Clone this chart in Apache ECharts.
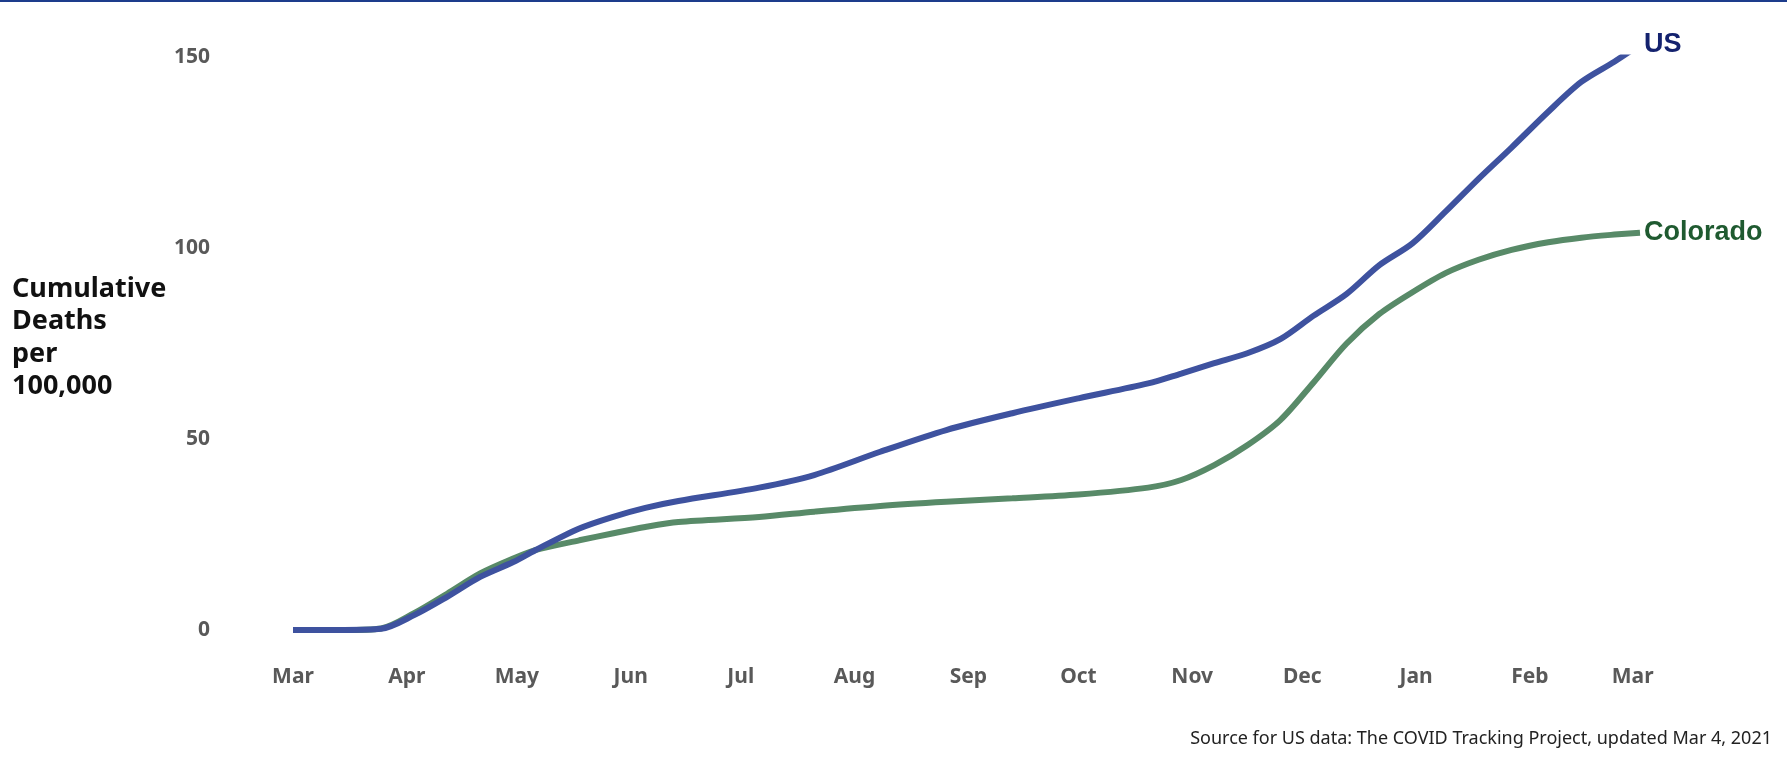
<!DOCTYPE html>
<html>
<head>
<meta charset="utf-8">
<script src="https://cdn.jsdelivr.net/npm/echarts@6/dist/echarts.min.js"></script>
<style>
html,body{margin:0;padding:0;background:#fff;}
#chart{width:1787px;height:763px;}
</style>
</head>
<body>
<div id="chart"></div>
<script>
// ---- data ----
var dates = ['2020-03-01','2020-03-15','2020-03-25','2020-04-03','2020-04-12','2020-04-21','2020-04-30',
  '2020-05-06','2020-05-18','2020-05-27','2020-06-05','2020-06-14','2020-07-06','2020-07-21','2020-08-08',
  '2020-08-26','2020-09-13','2020-10-01','2020-10-20','2020-10-29','2020-11-07','2020-11-16','2020-11-25',
  '2020-12-04','2020-12-13','2020-12-22','2020-12-31','2021-01-09','2021-01-18','2021-01-27','2021-02-06',
  '2021-02-15','2021-02-24','2021-03-03'];
var usValues = [0,0,0.3,3.9,8.7,13.9,17.8,20.9,26.6,29.6,32.0,33.8,37.3,40.6,46.7,52.4,56.8,60.7,64.6,67.2,
  69.9,72.5,76.2,82.3,88.0,95.6,101.3,109.6,118.2,126.4,135.8,143.6,148.9,153.4];
var coloradoValues = [0,0,0.4,4.4,9.5,14.8,18.7,20.9,23.5,25.3,27.0,28.3,29.6,31.0,32.5,33.6,34.5,35.5,37.3,
  39.3,43.2,48.4,55.0,64.8,75.0,82.8,88.5,93.5,97.0,99.6,101.6,102.8,103.6,104.1];
var monthTicks = ['2020-03-01','2020-04-01','2020-05-01','2020-06-01','2020-07-01','2020-08-01','2020-09-01',
  '2020-10-01','2020-11-01','2020-12-01','2021-01-01','2021-02-01','2021-03-01'];
var monthNames = ['Jan','Feb','Mar','Apr','May','Jun','Jul','Aug','Sep','Oct','Nov','Dec'];
var xStart = '2020-03-01', xEnd = '2021-03-03';
var yTicks = [0, 50, 100, 150];
var yTitle = 'Cumulative\nDeaths\nper\n100,000';
var sourceText = 'Source for US data: The COVID Tracking Project, updated Mar 4, 2021';

// day offset from the start date (used as the x value on a value axis)
function dayOf(s){
  var p = s.split('-'), q = xStart.split('-');
  return Math.round((Date.UTC(+p[0], +p[1]-1, +p[2]) - Date.UTC(+q[0], +q[1]-1, +q[2])) / 86400000);
}
function pairs(vals){ return dates.map(function(d,i){ return [dayOf(d), vals[i]]; }); }
var tickDays = monthTicks.map(dayOf);
var tickNames = {};
monthTicks.forEach(function(s){ tickNames[dayOf(s)] = monthNames[+s.split('-')[1]-1]; });

var chart = echarts.init(document.getElementById('chart'));
chart.setOption({
  backgroundColor:'#fff',
  animation:false,
  grid:{left:293, right:147, top:57.5, bottom:133, containLabel:false},
  xAxis:{
    type:'value',
    min: dayOf(xStart),
    max: dayOf(xEnd),
    axisLine:{show:false}, axisTick:{show:false}, splitLine:{show:false},
    axisLabel:{
      customValues: tickDays,
      formatter:function(v){ return tickNames[Math.round(v)] || ''; },
      margin:37, color:'#595959', fontSize:21, fontWeight:'bold', fontFamily:'Noto Sans',
      hideOverlap:false, showMinLabel:true, showMaxLabel:true
    }
  },
  yAxis:{
    type:'value', min:yTicks[0], max:yTicks[yTicks.length-1], interval:50,
    axisLine:{show:false}, axisTick:{show:false}, splitLine:{show:false},
    axisLabel:{margin:83, color:'#595959', fontSize:21, fontWeight:'bold', fontFamily:'Noto Sans'}
  },
  series:[
    {
      name:'Colorado', type:'line', data:pairs(coloradoValues), showSymbol:false, smooth:0.3,
      lineStyle:{color:'#588a68', width:6}, itemStyle:{color:'#588a68'},
      endLabel:{show:true, formatter:'{a}', color:'#1f5a30', fontSize:27, fontWeight:'bold',
        fontFamily:'Liberation Sans', distance:4}
    },
    {
      name:'US', type:'line', data:pairs(usValues), showSymbol:false, smooth:0.3,
      lineStyle:{color:'#3e529f', width:6}, itemStyle:{color:'#3e529f'},
      endLabel:{show:true, formatter:'{a}', color:'#14226e', fontSize:27, fontWeight:'bold',
        fontFamily:'Liberation Sans', distance:4}
    }
  ],
  graphic:[
    {type:'rect', left:0, top:0, shape:{width:1787, height:2}, style:{fill:'#1d3c8c'}},
    {type:'text', left:12, top:273, style:{text:yTitle, font:'bold 27px "Noto Sans"', fill:'#111', lineHeight:32.5}},
    {type:'text', right:15, top:730, style:{text:sourceText, font:'18px "Noto Sans"', fill:'#222', textAlign:'right'}}
  ]
});
</script>
</body>
</html>
